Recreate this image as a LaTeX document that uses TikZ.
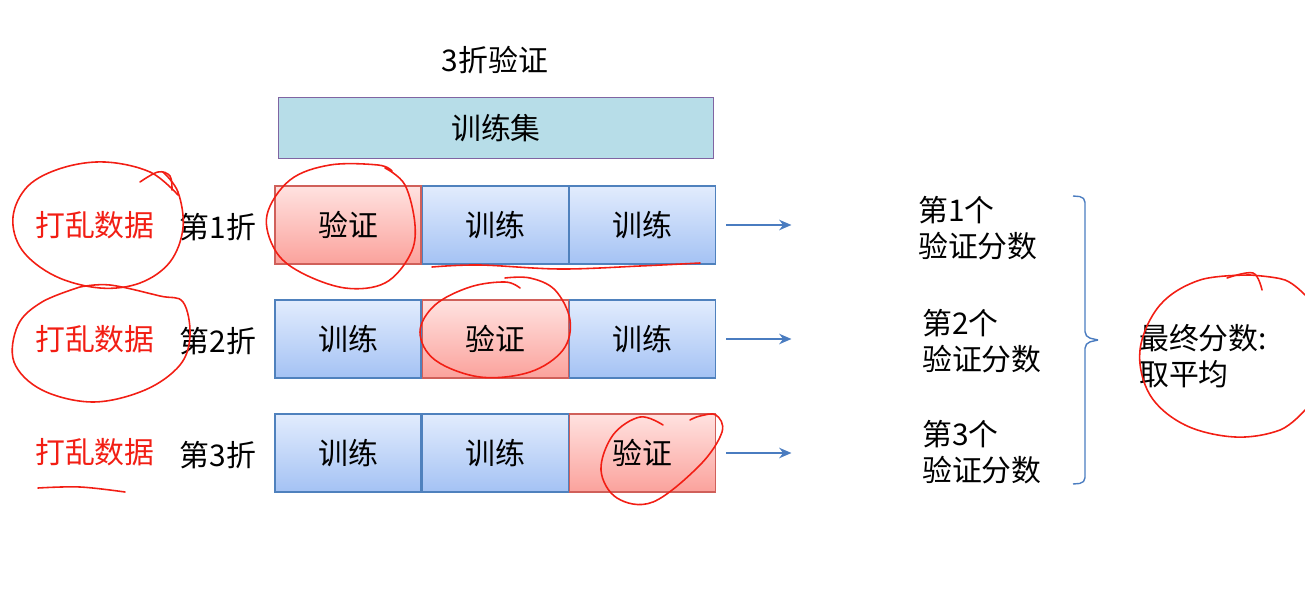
\documentclass[tikz,border=0pt]{standalone}
\usepackage{fontspec}
\setmainfont{Noto Sans CJK SC}
\usepackage{tikz}
\usepackage{xcolor}
\usetikzlibrary{positioning,arrows.meta}

\definecolor{setfill}{HTML}{B7DDE8}
\definecolor{setline}{HTML}{8064A2}
\definecolor{trtop}{HTML}{E2ECFD}
\definecolor{trbot}{HTML}{A4C2F4}
\definecolor{trline}{HTML}{4F81BD}
\definecolor{vatop}{HTML}{FFE2E0}
\definecolor{vabot}{HTML}{FBA29C}
\definecolor{valine}{HTML}{D0605A}
\definecolor{pen}{HTML}{F21E14}
\definecolor{arrowblue}{HTML}{4A7CC0}

\tikzset{
  fold/.style={rectangle,minimum width=2.92cm,minimum height=1.56cm,inner sep=0pt,line width=0.8pt},
  trainbox/.style={fold,draw=trline,top color=trtop,bottom color=trbot},
  validbox/.style={fold,draw=valine,top color=vatop,bottom color=vabot},
  shuffle/.style={text=pen},
  redpen/.style={draw=pen,line width=0.9pt,line cap=round},
  arr/.style={draw=arrowblue,line width=0.8pt,-{Stealth[length=7pt,width=6pt]}}
}

\begin{document}
\begin{tikzpicture}[x=0.02cm,y=-0.02cm,font=\fontsize{17pt}{20.5pt}\selectfont]
\useasboundingbox (0,0) rectangle (1305,608);

\node (title) at (495,60) {3折验证};
\node[draw=setline,fill=setfill,line width=0.8pt,minimum width=8.7cm,minimum height=1.22cm,inner sep=0pt] (trainset) at (496,128) {训练集};

% fold 1
\node[validbox] (f1a) at (348,225) {验证};
\node[trainbox,right=0pt of f1a] (f1b) {训练};
\node[trainbox,right=0pt of f1b] (f1c) {训练};
% fold 2
\node[trainbox] (f2a) at (348,339) {训练};
\node[validbox,right=0pt of f2a] (f2b) {验证};
\node[trainbox,right=0pt of f2b] (f2c) {训练};
% fold 3
\node[trainbox] (f3a) at (348,453) {训练};
\node[trainbox,right=0pt of f3a] (f3b) {训练};
\node[validbox,right=0pt of f3b] (f3c) {验证};

\node (k1) at (218,227) {第1折};
\node (k2) at (218,341) {第2折};
\node (k3) at (218,455) {第3折};
\node[shuffle] (m1) at (95,225) {打乱数据};
\node[shuffle] (m2) at (95,339) {打乱数据};
\node[shuffle] (m3) at (95,452) {打乱数据};

\coordinate[right=0.2cm of f1c] (p1);
\coordinate[right=0.2cm of f2c] (p2);
\coordinate[right=0.2cm of f3c] (p3);
\coordinate[right=1.5cm of f1c] (q1);
\coordinate[right=1.5cm of f2c] (q2);
\coordinate[right=1.5cm of f3c] (q3);
\draw[arr] (p1) -- (q1);
\draw[arr] (p2) -- (q2);
\draw[arr] (p3) -- (q3);

\node[anchor=west,align=left] (s1) at (912,228) {第1个\\验证分数};
\node[anchor=west,align=left] (s2) at (916,341) {第2个\\验证分数};
\node[anchor=west,align=left] (s3) at (916,452) {第3个\\验证分数};

% brace
\draw[arrowblue,line width=0.8pt,rounded corners=3pt] (1073,196) -- (1085,197) -- (1085,337) -- (1098,340);
\draw[arrowblue,line width=0.8pt,rounded corners=3pt] (1098,340) -- (1085,343) -- (1085,483) -- (1073,484);

\node[anchor=west,align=left] (final) at (1133,356) {最终分数:\\取平均};

% pen marks
\draw[redpen] plot[smooth,tension=0.6] coordinates {(140,182) (158,172) (170,176) (172,190)};
\draw[redpen] plot[smooth,tension=0.6] coordinates {(163,172) (178,192) (183,228) (170,262) (140,283) (100,288) (55,276) (22,250) (13,217) (28,186) (62,168) (105,162) (150,172) (178,195)};
\draw[redpen] plot[smooth,tension=0.6] coordinates {(80,287) (110,285) (160,296) (183,302) (190,335) (180,365) (145,390) (93,402) (42,390) (14,362) (18,325) (42,302) (80,287)};
\draw[redpen] plot[smooth,tension=0.6] coordinates {(38,488) (80,487) (125,492)};
\draw[redpen] plot[smooth,tension=0.6] coordinates {(392,171) (378,165) (330,165) (290,180) (267,215) (275,250) (300,272) (345,288) (385,283) (410,255) (415,225) (405,185) (385,168)};
\draw[redpen] plot[smooth,tension=0.6] coordinates {(432,267) (480,265) (560,269) (640,266) (700,263)};
\draw[redpen] plot[smooth,tension=0.6] coordinates {(520,288) (505,282) (470,287) (435,305) (420,332) (435,360) (480,377) (530,372) (563,350) (570,320) (555,290) (530,278) (505,278)};
\draw[redpen] plot[smooth,tension=0.6] coordinates {(663,425) (640,417) (613,435) (601,470) (617,498) (653,502) (700,465) (722,432) (716,415) (700,416) (690,420)};
\draw[redpen] plot[smooth,tension=0.6] coordinates {(1227,278) (1253,273) (1262,290)};
\draw[redpen] plot[smooth,tension=0.6] coordinates {(1250,275) (1200,280) (1160,305) (1140,350) (1150,395) (1185,425) (1235,437) (1280,430) (1305,410)};
\draw[redpen] plot[smooth,tension=0.6] coordinates {(1250,275) (1285,280) (1305,295)};
\end{tikzpicture}
\end{document}
